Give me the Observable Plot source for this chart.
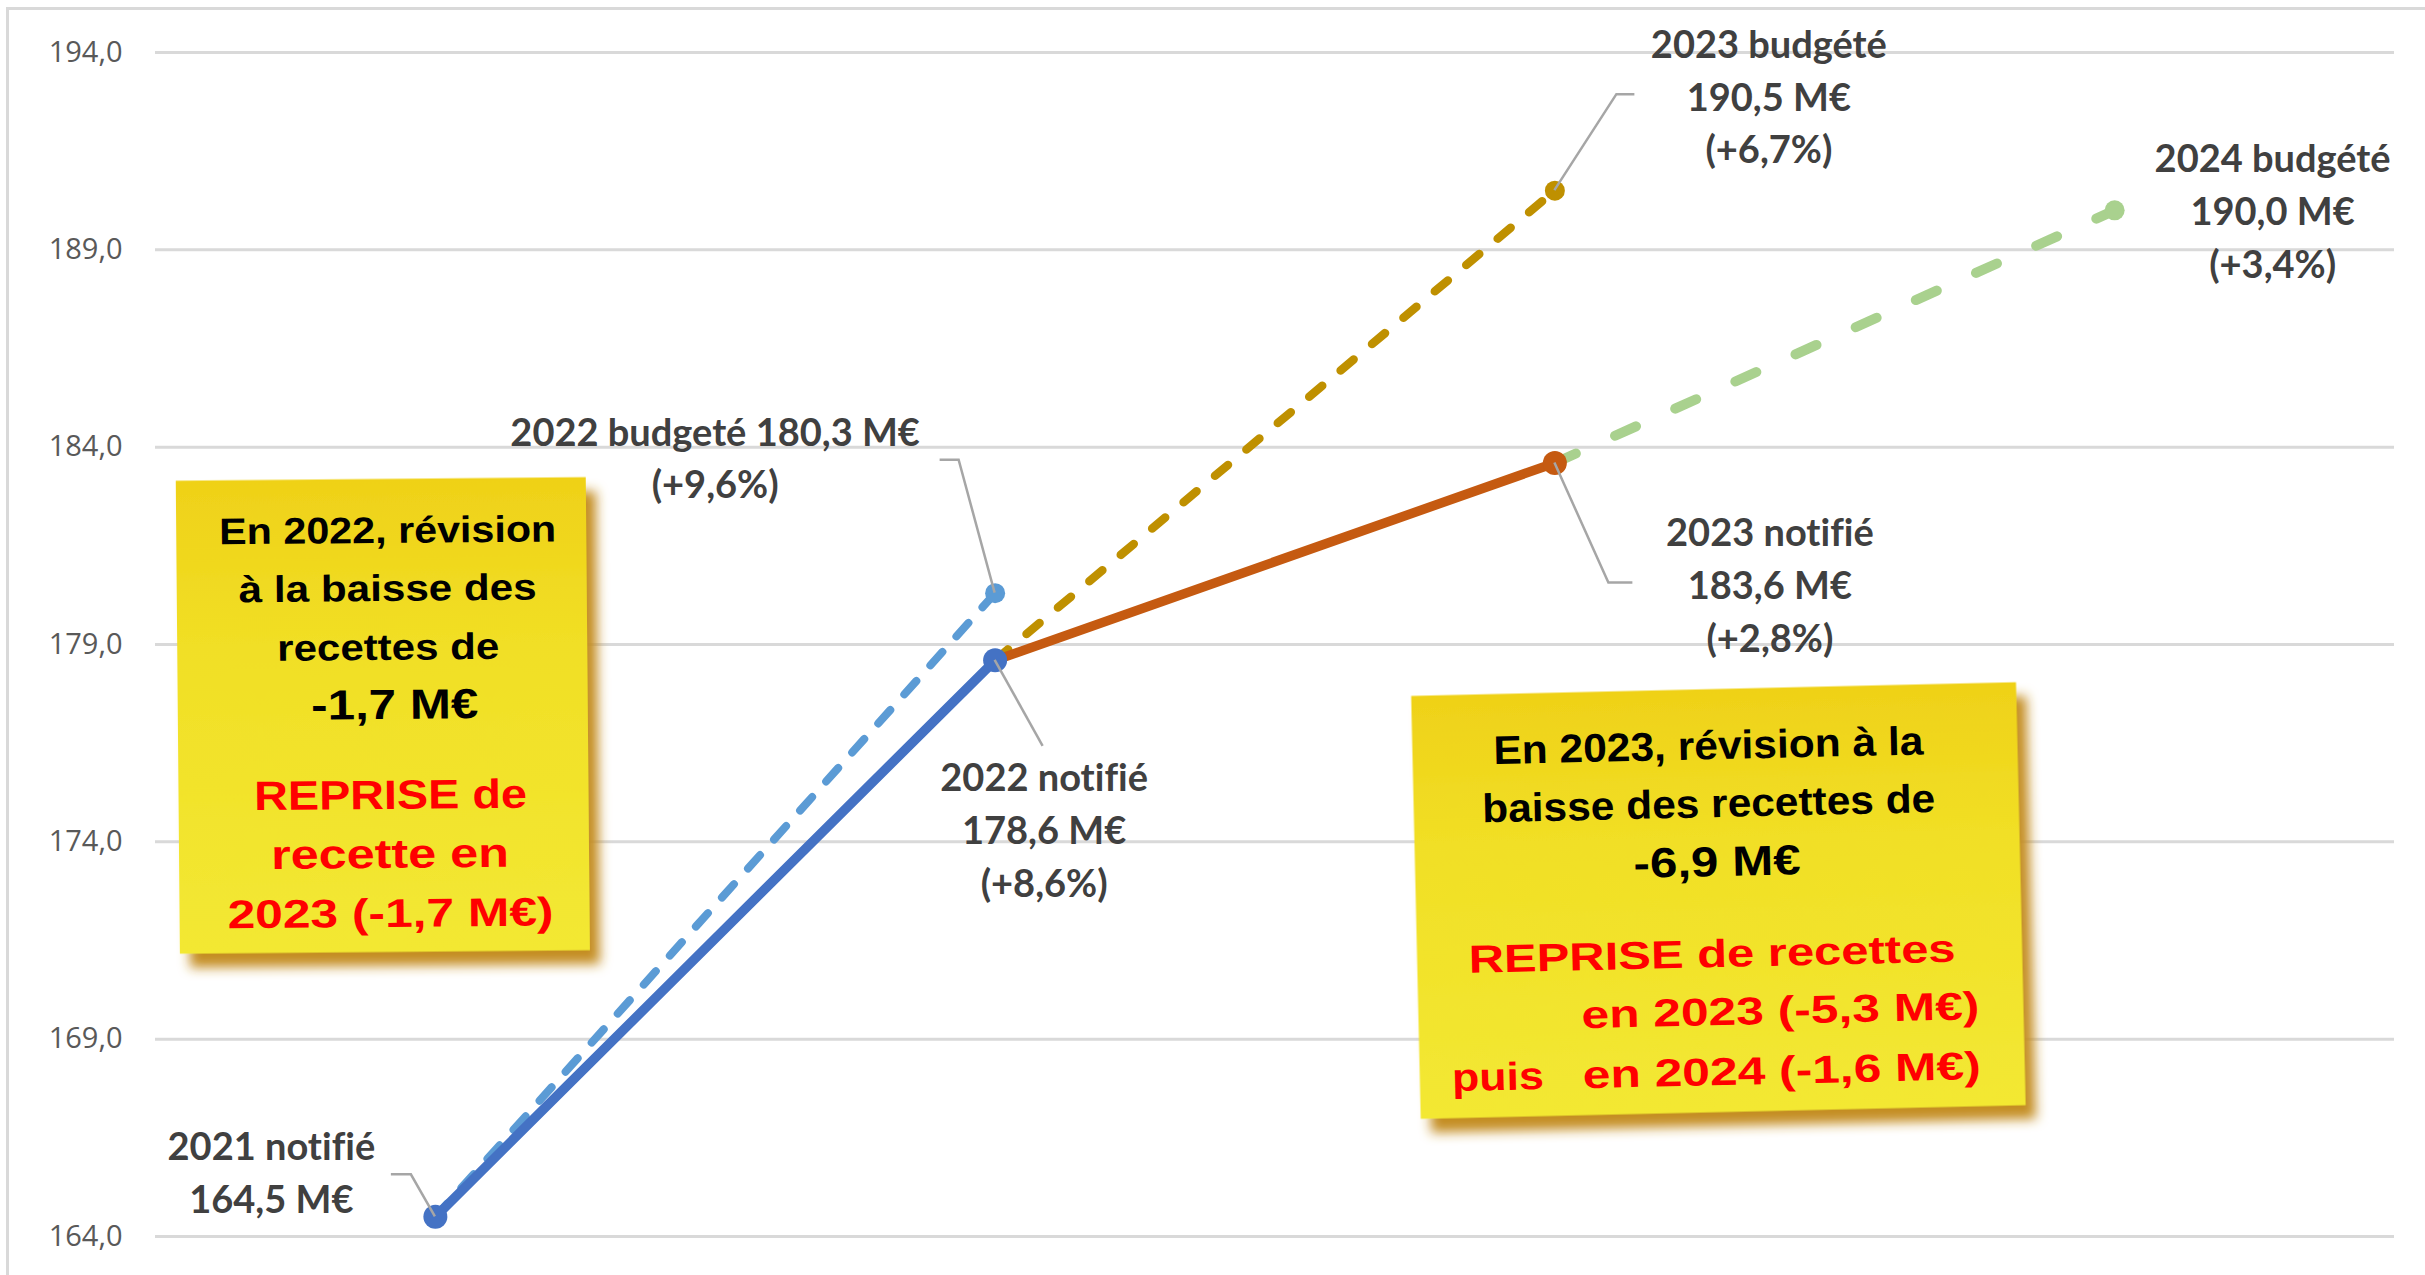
<!DOCTYPE html>
<html><head><meta charset="utf-8">
<script src="https://cdn.jsdelivr.net/npm/d3@7"></script>
<script src="https://cdn.jsdelivr.net/npm/@observablehq/plot@0.6"></script>
<style>
html,body{margin:0;padding:0;background:#fff;}
#wrap{position:relative;width:2425px;height:1275px;overflow:hidden;background:#fff;}
#frame{position:absolute;left:6px;top:7px;right:-20px;bottom:-20px;border-left:3px solid #D9D9D9;border-top:3px solid #D9D9D9;pointer-events:none;}
svg text{font-variant-ligatures:none;font-feature-settings:"liga" 0;}
</style></head><body>
<div id="wrap"><div id="chart"></div><div id="frame"></div></div>
<script>
// ---- data ----
const years = [2021, 2022, 2023, 2024];
const notifie = [164.5, 178.6, 183.6, null];
const budgete = [null, 180.3, 190.5, 190.0];
const yTicks = [164, 169, 174, 179, 184, 189, 194];
const notifieLabels = ["2021 notifié\n164,5 M€", "2022 notifié\n178,6 M€\n(+8,6%)", "2023 notifié\n183,6 M€\n(+2,8%)", null];
const budgeteLabels = [null, "2022 budgeté 180,3 M€\n(+9,6%)", "2023 budgété\n190,5 M€\n(+6,7%)", "2024 budgété\n190,0 M€\n(+3,4%)"];

// ---- styles / layout ----
const solidColors = ["#4472C4", "#C55A11"];
const dashColors = [null, "#5B9BD5", "#BF9000", "#A9D18E"];
const dashPatterns = [null, "18,21", "17,24", "23,43"];
const dashWidths = [null, 8, 8.5, 10];
const notifiePlace = [{dx: -164, dy: -47}, {dx: 49, dy: 167}, {dx: 215, dy: 119}, null];
const budgetePlace = [null, {dx: -280, dy: -138}, {dx: 214, dy: -97}, {dx: 158, dy: -2}];
const notifieLeader = [[[-24, -42], [-44, -42]], [[48, 86]], [[54, 120], [78, 120]], null];
const budgeteLeader = [null, [[-36, -133], [-55, -133]], [[62, -96], [80, -96]], null];

const notes = [
  {x: 2020.907, y: 177.19, w: 410, h: 473, rotate: -0.5, lines: [
    {text: "En 2022, révision", dx: 6.5, dy: -172.5, size: 37, color: "#000", len: 337},
    {text: "à la baisse des", dx: 6, dy: -114.5, size: 37, color: "#000", len: 298},
    {text: "recettes de", dx: 6, dy: -55.5, size: 37, color: "#000", len: 222},
    {text: "-1,7 M€", dx: 12, dy: 3.5, size: 42, color: "#000", len: 167},
    {text: "REPRISE de", dx: 7, dy: 93.5, size: 41, color: "#FF0000", len: 273},
    {text: "recette en", dx: 6, dy: 152.5, size: 41, color: "#FF0000", len: 238},
    {text: "2023 (-1,7 M€)", dx: 6, dy: 211.5, size: 40, color: "#FF0000", len: 326}
  ]},
  {x: 2023.293, y: 172.5, w: 605, h: 423, rotate: -1.3, lines: [
    {text: "En 2023, révision à la", dx: -6.5, dy: -141.5, size: 40, color: "#000", len: 430},
    {text: "baisse des recettes de", dx: -7.5, dy: -83.5, size: 40, color: "#000", len: 453},
    {text: "-6,9 M€", dx: -0.5, dy: -24.5, size: 42, color: "#000", len: 167},
    {text: "REPRISE de recettes", dx: -7.5, dy: 66.5, size: 39, color: "#FF0000", len: 487},
    {text: "en 2023 (-5,3 M€)", dx: 258.5, dy: 124.5, size: 39, color: "#FF0000", len: 398, anchor: "end"},
    {text: "puis", dx: -270.5, dy: 184.5, size: 39, color: "#FF0000", len: 92, anchor: "start"},
    {text: "en 2024 (-1,6 M€)", dx: 258.5, dy: 184.5, size: 39, color: "#FF0000", len: 398, anchor: "end"}
  ]}
];

const fmt = d => d.toFixed(1).replace(".", ",");
const labelFont = "Lato, 'Open Sans', sans-serif";

const marks = [];
marks.push(Plot.ruleY(yTicks, {stroke: "#D9D9D9", strokeWidth: 3}));
marks.push(Plot.axisY(yTicks, {tickSize: 0, tickPadding: 33, fontSize: 29, fill: "#595959", fontFamily: "'Open Sans', sans-serif", tickFormat: fmt, label: null}));

// dashed budget lines: from previous notified value to budgeted value
years.forEach((yr, i) => {
  if (i > 0 && budgete[i] != null && notifie[i - 1] != null) {
    marks.push(Plot.line([{x: years[i - 1], y: notifie[i - 1]}, {x: yr, y: budgete[i]}], {
      x: "x", y: "y", stroke: dashColors[i], strokeWidth: dashWidths[i],
      strokeDasharray: dashPatterns[i], strokeLinecap: "round"
    }));
  }
});
// solid notified lines
years.forEach((yr, i) => {
  if (i < years.length - 1 && notifie[i] != null && notifie[i + 1] != null) {
    marks.push(Plot.line([{x: yr, y: notifie[i]}, {x: years[i + 1], y: notifie[i + 1]}], {
      x: "x", y: "y", stroke: solidColors[i], strokeWidth: 9.5, strokeLinecap: "round", strokeLinejoin: "round"
    }));
  }
});
// dots
years.forEach((yr, i) => {
  if (budgete[i] != null) marks.push(Plot.dot([{x: yr, y: budgete[i]}], {x: "x", y: "y", r: 10, fill: dashColors[i]}));
});
years.forEach((yr, i) => {
  if (notifie[i] != null) marks.push(Plot.dot([{x: yr, y: notifie[i]}], {x: "x", y: "y", r: 12, fill: i === 2 ? solidColors[1] : solidColors[0]}));
});
// leader lines
marks.push(function (index, scales) {
  const g = d3.create("svg:g").attr("fill", "none").attr("stroke", "#A6A6A6").attr("stroke-width", 2.5);
  years.forEach((yr, i) => {
    [[notifie[i], notifieLeader[i]], [budgete[i], budgeteLeader[i]]].forEach(([v, path]) => {
      if (v == null || !path) return;
      const px = scales.x(yr), py = scales.y(v);
      const pts = [[px, py], ...path.map(([dx, dy]) => [px + dx, py + dy])];
      g.append("path").attr("d", d3.line()(pts));
    });
  });
  return g.node();
});
// data labels
years.forEach((yr, i) => {
  if (notifieLabels[i]) marks.push(Plot.text([{x: yr, y: notifie[i], t: notifieLabels[i]}], {
    x: "x", y: "y", text: "t", dx: notifiePlace[i].dx, dy: notifiePlace[i].dy, fill: "#404040",
    fontSize: 38, fontWeight: 700, fontFamily: labelFont, lineHeight: 1.39, textAnchor: "middle", lineAnchor: "middle"
  }));
  if (budgeteLabels[i]) marks.push(Plot.text([{x: yr, y: budgete[i], t: budgeteLabels[i]}], {
    x: "x", y: "y", text: "t", dx: budgetePlace[i].dx, dy: budgetePlace[i].dy, fill: "#404040",
    fontSize: 38, fontWeight: 700, fontFamily: labelFont, lineHeight: 1.39, textAnchor: "middle", lineAnchor: "middle"
  }));
});
// sticky notes
marks.push(function (index, scales) {
  const g = d3.create("svg:g");
  const defs = g.append("defs");
  const grad = defs.append("linearGradient").attr("id", "noteGrad").attr("x1", 0).attr("y1", 0).attr("x2", 0).attr("y2", 1);
  grad.append("stop").attr("offset", "0%").attr("stop-color", "#EFD118");
  grad.append("stop").attr("offset", "35%").attr("stop-color", "#F1DF25");
  grad.append("stop").attr("offset", "100%").attr("stop-color", "#F3E833");
  const f = defs.append("filter").attr("id", "noteShadow").attr("x", "-10%").attr("y", "-10%").attr("width", "130%").attr("height", "130%");
  f.append("feDropShadow").attr("dx", 10).attr("dy", 14).attr("stdDeviation", 6).attr("flood-color", "#C48D24").attr("flood-opacity", 1);
  notes.forEach(n => {
    const cx = scales.x(n.x), cy = scales.y(n.y);
    const ng = g.append("g").attr("transform", `translate(${cx},${cy}) rotate(${n.rotate})`);
    ng.append("rect").attr("x", -n.w / 2).attr("y", -n.h / 2).attr("width", n.w).attr("height", n.h)
      .attr("fill", "url(#noteGrad)").attr("filter", "url(#noteShadow)");
    n.lines.forEach(l => {
      ng.append("text").attr("x", l.dx).attr("y", l.dy).attr("text-anchor", l.anchor || "middle")
        .attr("font-family", "'Liberation Sans', Arial, sans-serif").attr("font-weight", 700)
        .attr("font-size", l.size).attr("fill", l.color)
        .attr("textLength", l.len).attr("lengthAdjust", "spacingAndGlyphs").text(l.text);
    });
  });
  return g.node();
});

const chart = Plot.plot({
  width: 2425, height: 1275,
  marginLeft: 155, marginRight: 31, marginTop: 52, marginBottom: 39,
  x: {type: "linear", domain: [2020.5, 2024.5], axis: null},
  y: {domain: [164, 194], axis: null},
  style: {background: "white", overflow: "visible"},
  marks
});
document.getElementById("chart").appendChild(chart);
</script>
</body></html>
